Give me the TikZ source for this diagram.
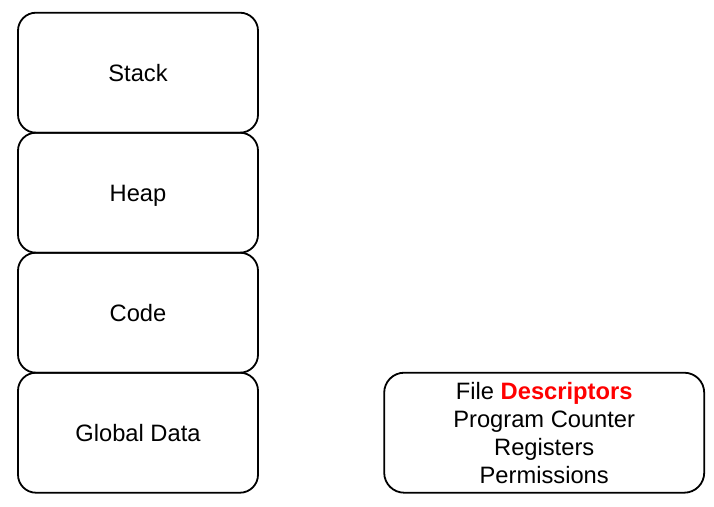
\documentclass[tikz,border=0pt]{standalone}
\usepackage{fontspec}
\setmainfont{Liberation Sans}
\definecolor{dred}{HTML}{FF0000}
\begin{document}
\begin{tikzpicture}[x=1pt,y=-1pt,
  seg/.style={draw=black,line width=1.8pt,rounded corners=18pt,minimum width=240pt,minimum height=120pt,inner sep=0pt,text height=22pt,text depth=4pt,font=\fontsize{23.7}{28}\selectfont},
  info/.style={draw=black,line width=1.8pt,rounded corners=20pt,minimum width=320pt,minimum height=120pt,inner sep=0pt,align=center,font=\fontsize{23.7}{28}\selectfont}]
\useasboundingbox (0,0) rectangle (714,506);
\node[seg] (stack) at (138,72.7) {Stack};
\node[seg] (heap) at (138,192.7) {Heap};
\node[seg] (code) at (138,312.7) {Code};
\node[seg] (global) at (138,432.7) {Global Data};
\node[info] (pcb) at (544.2,432.7) {File \textcolor{dred}{\textbf{Descriptors}}\\Program Counter\\Registers\\Permissions};
\end{tikzpicture}
\end{document}
